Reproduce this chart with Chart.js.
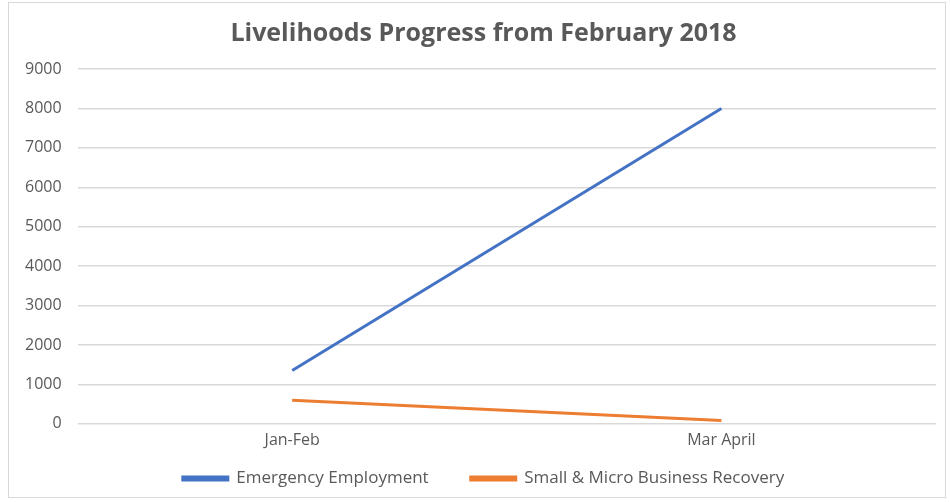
<!DOCTYPE html>
<html>
<head>
<meta charset="utf-8">
<script src="https://cdn.jsdelivr.net/npm/chart.js@4.4.0/dist/chart.umd.min.js"></script>
<style>
  html, body { margin: 0; padding: 0; background: #fff; }
  #wrap {
    position: absolute; left: 8px; top: 2px; width: 938px; height: 496px;
    border: 1px solid #d9d9d9; box-sizing: border-box;
  }
</style>
</head>
<body>
<div id="wrap"><canvas id="myChart"></canvas></div>
<script>
const categories = ["Jan-Feb", "Mar April"];
const emergencyEmployment = [1350, 8000];
const smallMicroBusiness = [600, 85];
const yTicks = [0, 1000, 2000, 3000, 4000, 5000, 6000, 7000, 8000, 9000];

const textColor = "#595959";
const gridColor = "#d9d9d9";
const font = "Open Sans";

const data = {
  labels: categories,
  datasets: [
    {
      label: "Emergency Employment",
      data: emergencyEmployment,
      borderColor: "#4472c4",
      backgroundColor: "#4472c4",
      borderWidth: 3,
      pointRadius: 0,
      tension: 0,
    },
    {
      label: "Small & Micro Business Recovery",
      data: smallMicroBusiness,
      borderColor: "#ed7d31",
      backgroundColor: "#ed7d31",
      borderWidth: 3,
      pointRadius: 0,
      tension: 0,
    },
  ],
};

// title and legend sit a little right of the plot's centre in the original
const nudgeCentre = {
  id: "nudgeCentre",
  afterLayout(chart) {
    [chart.titleBlock, chart.legend].forEach((box) => {
      box.left += 11;
      box.right += 11;
    });
  },
};

const config = {
  type: "line",
  data: data,
  plugins: [nudgeCentre],
  options: {
    responsive: true,
    maintainAspectRatio: false,
    animation: false,
    layout: { padding: { left: 0, right: 9, top: 10, bottom: 0 } },
    plugins: {
      title: {
        display: true,
        text: "Livelihoods Progress from February 2018",
        color: textColor,
        font: { family: font, size: 25, weight: "bold" },
        padding: { top: 6, bottom: 20 },
      },
      legend: {
        position: "bottom",
        labels: {
          color: textColor,
          font: { family: font, size: 17 },
          boxWidth: 45,
          boxHeight: 3,
          padding: 20,
          // a bit more room between the two entries, like the original
          generateLabels: (chart) => {
            const items = Chart.defaults.plugins.legend.labels.generateLabels(chart);
            items[0].text += "     ";
            return items;
          },
        },
      },
      tooltip: { enabled: false },
    },
    scales: {
      x: {
        offset: true,
        grid: { display: false, drawTicks: false },
        border: { display: false },
        ticks: { color: textColor, font: { family: font, size: 16 }, padding: 7 },
        afterFit: (axis) => {
          axis.height -= 7;
        },
      },
      y: {
        min: 0,
        max: 9000,
        afterBuildTicks: (axis) => {
          axis.ticks = yTicks.map((v) => ({ value: v }));
        },
        grid: { color: gridColor, lineWidth: 1.5, drawTicks: false },
        border: { display: false },
        ticks: {
          color: textColor,
          font: { family: font, size: 16 },
          padding: 16,
          callback: (v) => String(v),
        },
      },
    },
  },
};

new Chart(document.getElementById("myChart"), config);
</script>
</body>
</html>
